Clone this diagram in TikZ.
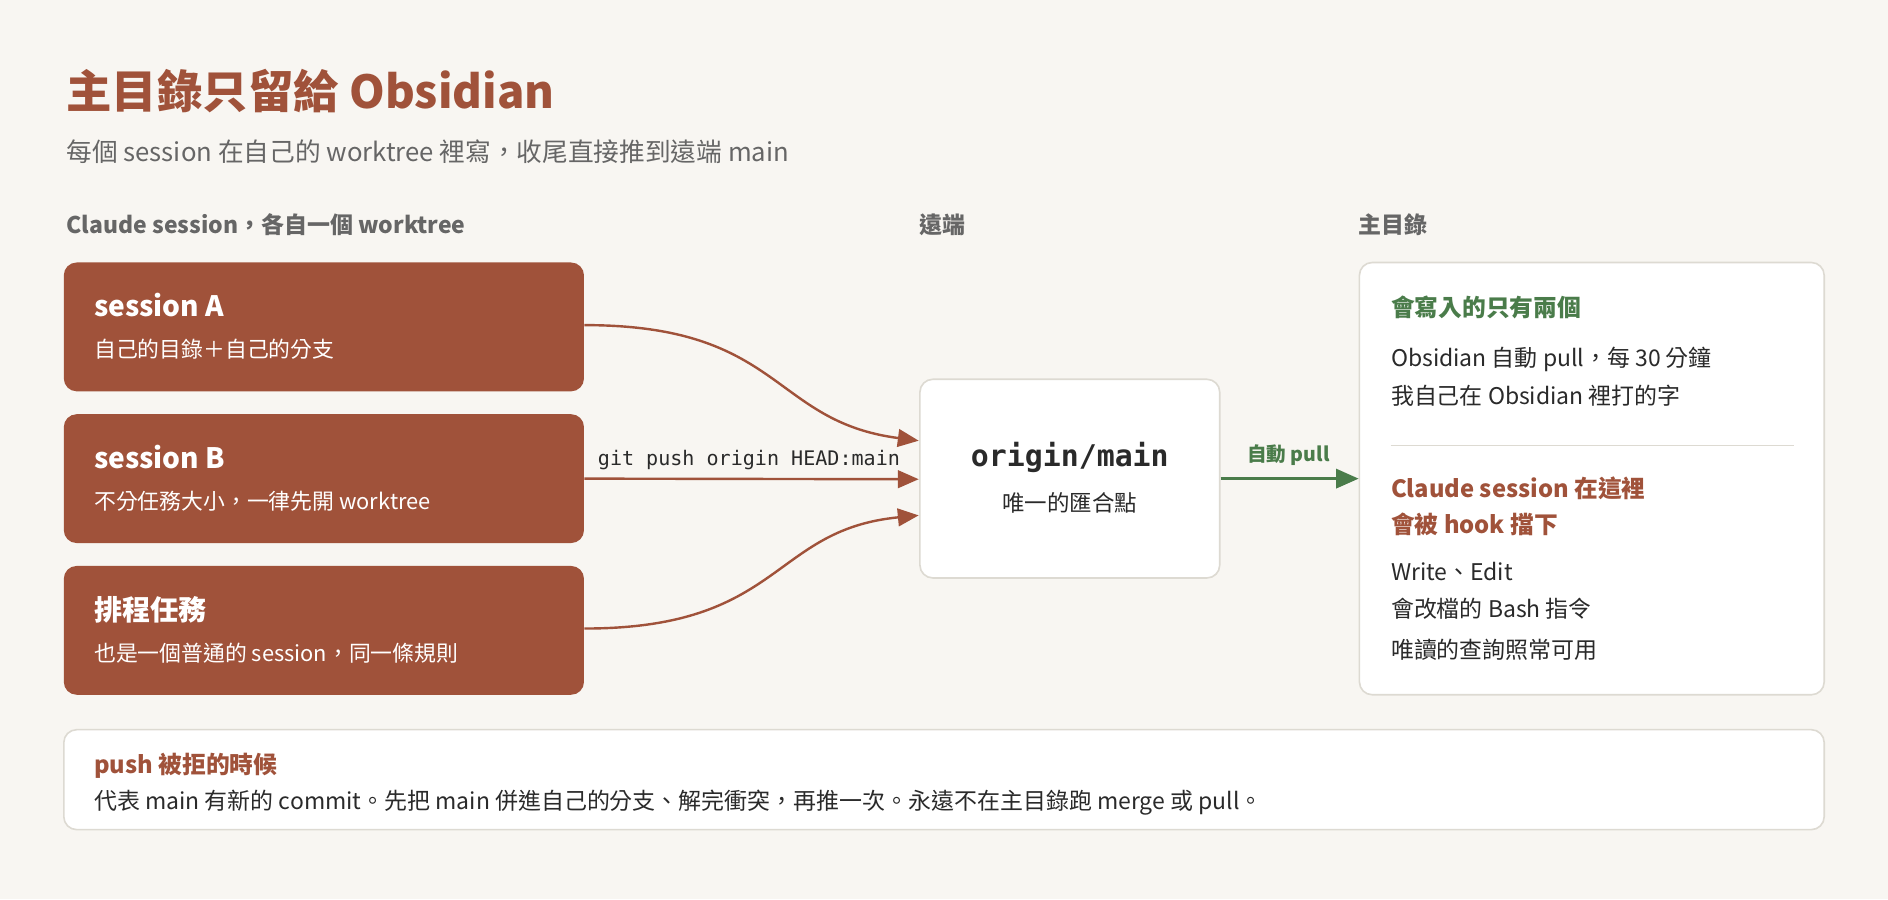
\documentclass[tikz,border=0pt]{standalone}
\usepackage{fontspec}
\setmainfont{Noto Sans CJK TC}
\newfontfamily\monof{DejaVu Sans Mono}
\usetikzlibrary{arrows.meta}
\definecolor{bg}{HTML}{F8F6F2}
\definecolor{rust}{HTML}{A0523A}
\definecolor{grn}{HTML}{4A7C4A}
\definecolor{gr}{HTML}{666666}
\definecolor{txt}{HTML}{2A2A2A}
\definecolor{bd}{HTML}{DDDAD2}
\begin{document}
\begin{tikzpicture}[x=0.75pt,y=-0.75pt,
 sess/.style={draw=none,fill=rust,rounded corners=8pt,minimum width=432*0.75pt,minimum height=107*0.75pt},
 card/.style={draw=bd,line width=1pt,fill=white,rounded corners=8pt},
 t/.style={anchor=base west,inner sep=0pt,font=\fontsize{14.3}{16}\selectfont,text=txt},
 wt/.style={anchor=base west,inner sep=0pt,text=white},
 arr/.style={draw=rust,line width=1.5pt,-{Triangle[length=13pt,width=11pt]}}]
\fill[bg] (0,0) rectangle (1568,747);
\useasboundingbox (0,0) rectangle (1568,747);
\node[anchor=base west,inner sep=0pt,text=rust,font=\fontsize{28.3}{30}\selectfont\bfseries] (title) at (55,90) {主目錄只留給 Obsidian};
\node[anchor=base west,inner sep=0pt,text=gr,font=\fontsize{16}{18}\selectfont] (sub) at (55,134) {每個 session 在自己的 worktree 裡寫，收尾直接推到遠端 main};
\foreach \n/\x/\s in {h1/55/Claude session，各自一個 worktree, h2/763/遠端, h3/1128/主目錄}
 \node[anchor=base west,inner sep=0pt,text=gr,font=\fontsize{14.3}{16}\selectfont\bfseries] (\n) at (\x,194) {\s};
\node[sess] (sA) at (269,271.5) {};
\node[sess] (sB) at (269,397.5) {};
\node[sess] (sC) at (269,523.5) {};
\node[wt,font=\fontsize{17.5}{19}\selectfont\bfseries] (tA) at (78,263) {session A};
\node[wt,font=\fontsize{13.6}{16}\selectfont] (dA) at (78,297) {自己的目錄＋自己的分支};
\node[wt,font=\fontsize{17.5}{19}\selectfont\bfseries] (tB) at (78,389) {session B};
\node[wt,font=\fontsize{13.6}{16}\selectfont] (dB) at (78,423) {不分任務大小，一律先開 worktree};
\node[wt,font=\fontsize{17.5}{19}\selectfont\bfseries] (tC) at (78,515) {排程任務};
\node[wt,font=\fontsize{13.6}{16}\selectfont] (dC) at (78,549) {也是一個普通的 session，同一條規則};
\node[card,minimum width=249*0.75pt,minimum height=165*0.75pt] (o) at (888.5,397.5) {};
\node[inner sep=0pt,font=\monof\fontsize{18.6}{20}\selectfont\bfseries,text=txt] (ot) at (888.5,380) {origin/main};
\node[inner sep=0pt,font=\fontsize{14}{16}\selectfont,text=txt] (od) at (888.5,418) {唯一的匯合點};
\coordinate (eA) at (763,366);
\coordinate (eB) at (763,398);
\coordinate (eC) at (763,428);
\draw[arr] (sA.east|-0,270) .. controls (650,270) and (640,350) .. (eA);
\draw[arr] (sB.east) -- (eB);
\draw[arr] (sC.east|-0,522) .. controls (650,522) and (640,440) .. (eC);
\node[inner sep=0pt,font=\monof\fontsize{12.5}{14}\selectfont,text=txt] (gl) at (622,382) {git push origin HEAD:main};
\node[card,minimum width=386*0.75pt,minimum height=359*0.75pt] (r) at (1322,397.5) {};
\draw[grn,line width=1.5pt,-{Triangle[length=14pt,width=12pt]}] (o.east) -- (r.west);
\node[inner sep=0pt,font=\fontsize{12.2}{14}\selectfont\bfseries,text=grn] (pl) at (1070,378) {自動 pull};
\node[t,font=\fontsize{14.8}{16}\selectfont\bfseries,text=grn] (r1) at (1155,263) {會寫入的只有兩個};
\node[t] (r2) at (1155,304) {Obsidian 自動 pull，每 30 分鐘};
\node[t] (r3) at (1155,336) {我自己在 Obsidian 裡打的字};
\draw[bd,line width=1pt] (1155,370) -- (1490,370);
\node[t,font=\fontsize{14.8}{16}\selectfont\bfseries,text=rust] (r4) at (1155,413) {Claude session 在這裡};
\node[t,font=\fontsize{14.8}{16}\selectfont\bfseries,text=rust] (r5) at (1155,443) {會被 hook 擋下};
\node[t] (r6) at (1155,482) {Write、Edit};
\node[t] (r7) at (1155,513) {會改檔的 Bash 指令};
\node[t] (r8) at (1155,547) {唯讀的查詢照常可用};
\node[card,minimum width=1462*0.75pt,minimum height=83*0.75pt] (bt) at (784,647.5) {};
\node[t,font=\fontsize{14.8}{16}\selectfont\bfseries,text=rust] (b1) at (78,642) {push 被拒的時候};
\node[t] (b2) at (78,672) {代表 main 有新的 commit。先把 main 併進自己的分支、解完衝突，再推一次。永遠不在主目錄跑 merge 或 pull。};
\end{tikzpicture}
\end{document}
